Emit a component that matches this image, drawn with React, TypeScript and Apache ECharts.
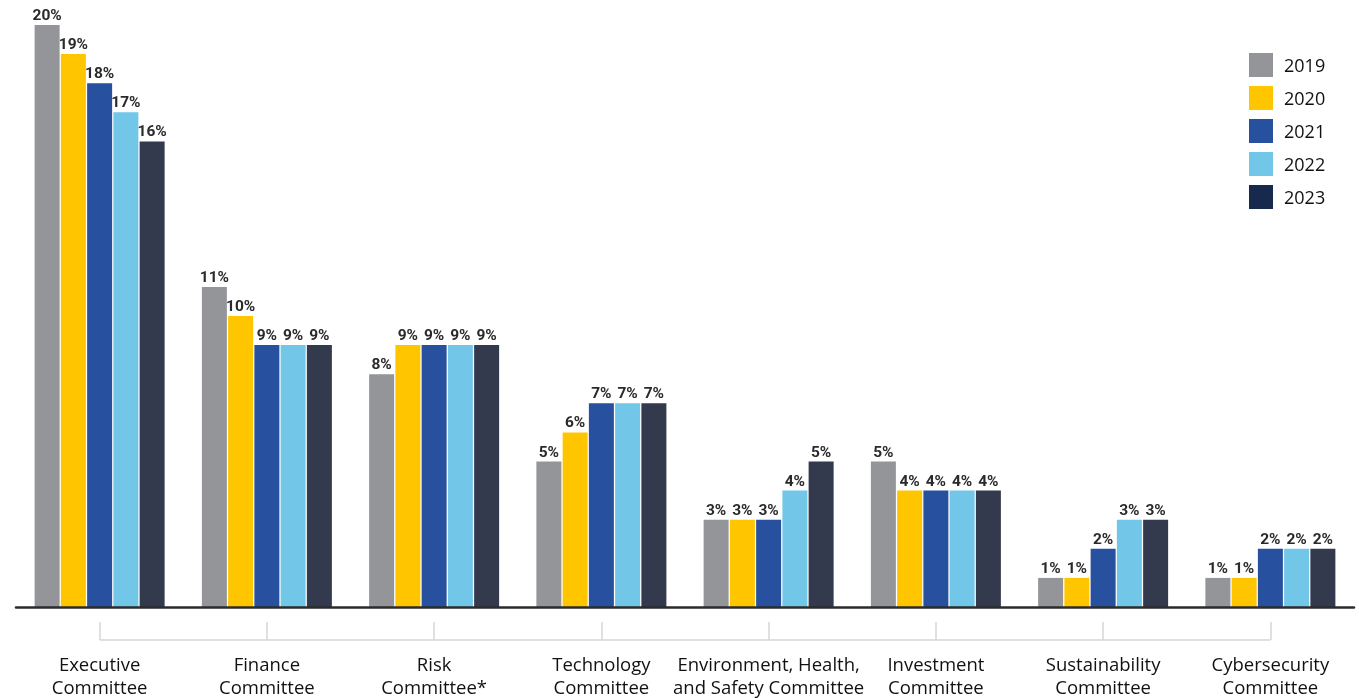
import React, { useEffect, useRef } from "react";
import * as echarts from "echarts";

const categories = [
  "Executive\nCommittee",
  "Finance\nCommittee",
  "Risk\nCommittee*",
  "Technology\nCommittee",
  "Environment, Health,\nand Safety Committee",
  "Investment\nCommittee",
  "Sustainability\nCommittee",
  "Cybersecurity\nCommittee",
];
const years = ["2019", "2020", "2021", "2022", "2023"];
const v2019 = [20, 11, 8, 5, 3, 5, 1, 1];
const v2020 = [19, 10, 9, 6, 3, 4, 1, 1];
const v2021 = [18, 9, 9, 7, 3, 4, 2, 2];
const v2022 = [17, 9, 9, 7, 4, 4, 3, 2];
const v2023 = [16, 9, 9, 7, 5, 4, 3, 2];
const seriesValues = [v2019, v2020, v2021, v2022, v2023];
const barColors = ["#939598", "#FFC600", "#27509E", "#72C6E8", "#333A4D"];
const legendColors = ["#939598", "#FFC600", "#27509E", "#72C6E8", "#172A4E"];

export default function App() {
  const ref = useRef<HTMLDivElement>(null);
  useEffect(() => {
    if (!ref.current) return;
    const chart = echarts.init(ref.current, null, { renderer: "svg" });
    const labelFont = "Roboto, sans-serif";
    const catFont = "'Open Sans', 'Noto Sans', sans-serif";
    chart.setOption({
      animation: false,
      grid: { left: 16, right: 5, top: 25, bottom: 91, containLabel: false },
      legend: {
        orient: "vertical",
        left: 1244,
        top: 48,
        itemWidth: 24,
        itemHeight: 24,
        itemGap: 9,
        icon: "rect",
        textStyle: { fontSize: 18, color: "#111", fontFamily: catFont, padding: [0, 0, 0, 6] },
        data: years.map((y, i) => ({ name: y, itemStyle: { color: legendColors[i] } })),
      },
      xAxis: [
        {
          type: "category",
          data: categories,
          axisLine: { show: true, lineStyle: { color: "#2b2b2b", width: 2.5 } },
          axisTick: { show: false },
          axisLabel: {
            margin: 45,
            fontSize: 18.5,
            lineHeight: 23,
            color: "#111",
            fontFamily: catFont,
            interval: 0,
          },
          z: 10,
        },
        {
          type: "category",
          data: categories,
          position: "bottom",
          offset: 33,
          axisLine: { show: false },
          axisTick: {
            show: true,
            inside: true,
            alignWithLabel: true,
            length: 18,
            lineStyle: { color: "#d6d6d6", width: 1.5 },
          },
          axisLabel: { show: false },
        },
      ],
      yAxis: { type: "value", min: 0, max: 20, show: false, splitLine: { show: false } },
      series: years.map((y, i) => ({
        name: y,
        type: "bar",
        data: seriesValues[i],
        barWidth: 25,
        barGap: "5%",
        itemStyle: { color: barColors[i] },
        label: {
          show: true,
          position: "top",
          distance: 2,
          formatter: "{c}%",
          fontSize: 15.5,
          fontWeight: "bold",
          color: "#2a2a2a",
          fontFamily: labelFont,
        },
      })),
    });
    const p0 = chart.convertToPixel({ xAxisIndex: 1 }, categories[0]) as number;
    const p1 = chart.convertToPixel({ xAxisIndex: 1 }, categories[categories.length - 1]) as number;
    const py = chart.convertToPixel({ yAxisIndex: 0 }, 0) as number;
    chart.setOption({
      graphic: [
        {
          type: "line",
          shape: { x1: p0, y1: py + 33, x2: p1, y2: py + 33 },
          style: { stroke: "#d6d6d6", lineWidth: 1.5 },
        },
      ],
    });
    return () => chart.dispose();
  }, []);
  return (
    <div
      ref={ref}
      style={{ position: "fixed", left: 0, top: 0, width: 1359, height: 698 }}
    />
  );
}
